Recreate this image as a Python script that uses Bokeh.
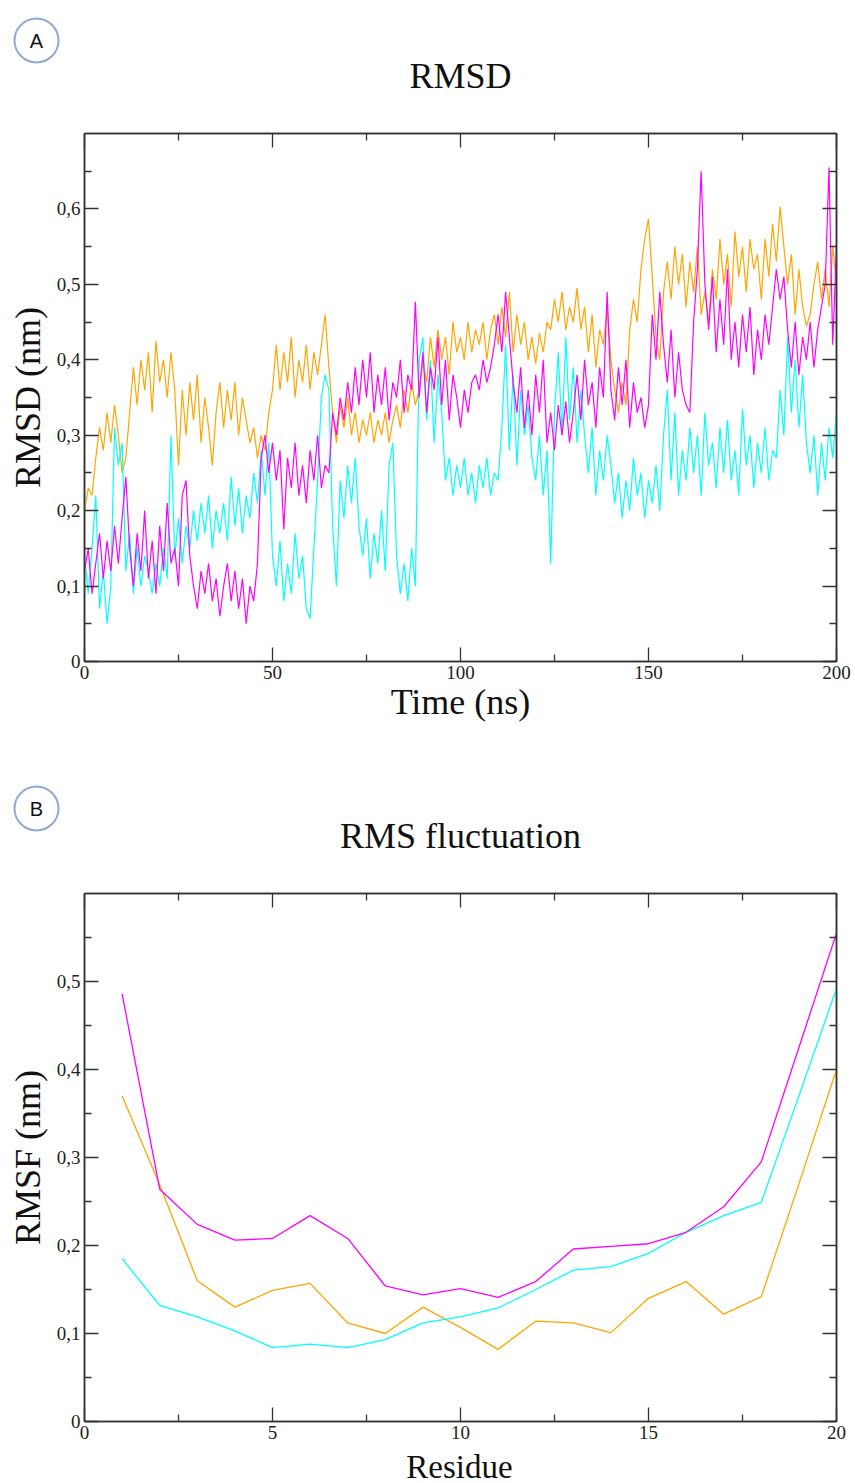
from bokeh.plotting import figure
from bokeh.layouts import column
from bokeh.models import (Range1d, FixedTicker, LinearAxis, Label,
                          CustomJSTickFormatter, ColumnDataSource)
from bokeh.embed import file_html
from bokeh.resources import INLINE

# ---------------- data ----------------
time_ns = list(range(0, 201))

rmsd_orange = [
    0.20, 0.23, 0.22, 0.27, 0.31, 0.28, 0.33, 0.29, 0.34, 0.30,
    0.25, 0.27, 0.33, 0.39, 0.34, 0.40, 0.36, 0.41, 0.33, 0.425,
    0.37, 0.40, 0.35, 0.41, 0.36, 0.26, 0.36, 0.30, 0.37, 0.32,
    0.38, 0.29, 0.35, 0.31, 0.26, 0.33, 0.37, 0.31, 0.36, 0.32,
    0.37, 0.30, 0.35, 0.32, 0.29, 0.31, 0.27, 0.30, 0.28, 0.33,
    0.36, 0.42, 0.36, 0.41, 0.37, 0.43, 0.35, 0.40, 0.37, 0.42,
    0.36, 0.41, 0.38, 0.42, 0.46, 0.39, 0.33, 0.29, 0.34, 0.31,
    0.35, 0.30, 0.33, 0.29, 0.32, 0.30, 0.33, 0.29, 0.32, 0.30,
    0.33, 0.29, 0.32, 0.34, 0.31, 0.36, 0.33, 0.37, 0.34, 0.36,
    0.40, 0.37, 0.43, 0.39, 0.44, 0.40, 0.43, 0.38, 0.45, 0.41,
    0.43, 0.40, 0.45, 0.41, 0.44, 0.42, 0.45, 0.40, 0.44, 0.46,
    0.42, 0.47, 0.43, 0.49, 0.41, 0.46, 0.42, 0.45, 0.40, 0.43,
    0.395, 0.435, 0.41, 0.45, 0.44, 0.48, 0.45, 0.49, 0.44, 0.47,
    0.45, 0.495, 0.44, 0.47, 0.41, 0.46, 0.39, 0.44, 0.42, 0.47,
    0.40, 0.36, 0.33, 0.37, 0.34, 0.44, 0.48, 0.45, 0.52, 0.56,
    0.587, 0.51, 0.43, 0.40, 0.49, 0.53, 0.48, 0.55, 0.50, 0.54,
    0.47, 0.53, 0.49, 0.55, 0.46, 0.49, 0.45, 0.52, 0.48, 0.56,
    0.50, 0.54, 0.47, 0.57, 0.51, 0.55, 0.49, 0.56, 0.52, 0.54,
    0.48, 0.56, 0.51, 0.58, 0.53, 0.603, 0.55, 0.50, 0.54, 0.46,
    0.52, 0.47, 0.445, 0.46, 0.50, 0.53, 0.48, 0.52, 0.47, 0.55,
    0.50,
]

rmsd_magenta = [
    0.12, 0.15, 0.09, 0.13, 0.17, 0.11, 0.16, 0.12, 0.18, 0.13,
    0.19, 0.245, 0.15, 0.10, 0.17, 0.12, 0.20, 0.11, 0.16, 0.09,
    0.18, 0.12, 0.21, 0.13, 0.15, 0.10, 0.22, 0.24, 0.14, 0.10,
    0.07, 0.12, 0.09, 0.13, 0.08, 0.11, 0.06, 0.10, 0.13, 0.08,
    0.12, 0.07, 0.11, 0.05, 0.10, 0.08, 0.13, 0.27, 0.30, 0.25,
    0.29, 0.24, 0.28, 0.175, 0.27, 0.23, 0.29, 0.22, 0.26, 0.21,
    0.28, 0.24, 0.30, 0.23, 0.26, 0.25, 0.33, 0.30, 0.35, 0.32,
    0.37, 0.33, 0.39, 0.34, 0.40, 0.35, 0.41, 0.33, 0.38, 0.34,
    0.39, 0.32, 0.37, 0.35, 0.40, 0.33, 0.38, 0.36, 0.477, 0.35,
    0.41, 0.33, 0.39, 0.36, 0.43, 0.34, 0.40, 0.32, 0.38, 0.35,
    0.31, 0.36, 0.33, 0.37, 0.38, 0.36, 0.40, 0.37, 0.39, 0.42,
    0.46, 0.41, 0.49, 0.43, 0.37, 0.33, 0.39, 0.31, 0.36, 0.30,
    0.38, 0.33, 0.40, 0.29, 0.33, 0.28, 0.34, 0.30, 0.345, 0.29,
    0.33, 0.38, 0.32, 0.40, 0.34, 0.37, 0.31, 0.39, 0.35, 0.49,
    0.36, 0.32, 0.39, 0.34, 0.40, 0.31, 0.37, 0.33, 0.35, 0.31,
    0.34, 0.46, 0.40, 0.49, 0.42, 0.37, 0.44, 0.35, 0.41, 0.36,
    0.34, 0.33, 0.45, 0.52, 0.65, 0.50, 0.44, 0.51, 0.41, 0.48,
    0.42, 0.52, 0.40, 0.45, 0.39, 0.46, 0.41, 0.47, 0.38, 0.44,
    0.40, 0.46, 0.42, 0.47, 0.52, 0.48, 0.51, 0.44, 0.39, 0.45,
    0.38, 0.43, 0.40, 0.45, 0.39, 0.44, 0.47, 0.50, 0.655, 0.42,
    0.55,
]

rmsd_cyan = [
    0.14, 0.09, 0.15, 0.22, 0.07, 0.12, 0.05, 0.10, 0.31, 0.26,
    0.29, 0.12, 0.17, 0.09, 0.15, 0.10, 0.14, 0.12, 0.09, 0.13,
    0.10, 0.15, 0.11, 0.30, 0.14, 0.19, 0.13, 0.18, 0.15, 0.20,
    0.16, 0.21, 0.17, 0.22, 0.15, 0.20, 0.17, 0.21, 0.16, 0.245,
    0.18, 0.23, 0.17, 0.22, 0.19, 0.25, 0.21, 0.28, 0.22, 0.29,
    0.14, 0.10, 0.16, 0.08, 0.13, 0.09, 0.17, 0.11, 0.14, 0.07,
    0.057, 0.15, 0.24, 0.35, 0.38, 0.36, 0.18, 0.10, 0.24, 0.19,
    0.26, 0.21, 0.27, 0.18, 0.14, 0.19, 0.11, 0.17, 0.13, 0.20,
    0.12, 0.26, 0.29, 0.14, 0.09, 0.13, 0.08, 0.15, 0.10, 0.40,
    0.43, 0.32, 0.40, 0.29, 0.38, 0.33, 0.24, 0.27, 0.22, 0.26,
    0.23, 0.27, 0.22, 0.25, 0.21, 0.26, 0.23, 0.27, 0.22, 0.25,
    0.24, 0.31, 0.42, 0.28, 0.38, 0.26, 0.36, 0.30, 0.34, 0.27,
    0.24, 0.30, 0.22, 0.28, 0.13, 0.33, 0.41, 0.30, 0.43, 0.32,
    0.39, 0.29, 0.36, 0.30, 0.25, 0.31, 0.22, 0.28, 0.24, 0.30,
    0.26, 0.21, 0.25, 0.19, 0.24, 0.20, 0.27, 0.22, 0.25, 0.19,
    0.24, 0.21, 0.26, 0.20, 0.30, 0.36, 0.24, 0.33, 0.22, 0.28,
    0.24, 0.31, 0.25, 0.30, 0.22, 0.33, 0.26, 0.29, 0.23, 0.31,
    0.25, 0.32, 0.24, 0.28, 0.22, 0.335, 0.26, 0.30, 0.23, 0.29,
    0.25, 0.31, 0.24, 0.28, 0.27, 0.36, 0.30, 0.43, 0.33, 0.40,
    0.31, 0.38, 0.29, 0.25, 0.30, 0.22, 0.29, 0.24, 0.31, 0.27,
    0.33,
]

residue = list(range(1, 21))
rmsf_magenta = [0.486, 0.264, 0.224, 0.206, 0.208, 0.234, 0.208, 0.154, 0.144, 0.151,
                0.141, 0.159, 0.196, 0.199, 0.202, 0.215, 0.244, 0.295, 0.425, 0.555]
rmsf_orange = [0.370, 0.269, 0.160, 0.130, 0.149, 0.157, 0.112, 0.100, 0.130, 0.107,
               0.082, 0.114, 0.112, 0.101, 0.140, 0.159, 0.122, 0.142, 0.27, 0.400]
rmsf_cyan = [0.185, 0.132, 0.119, 0.103, 0.084, 0.088, 0.084, 0.093, 0.112, 0.119,
             0.129, 0.150, 0.172, 0.176, 0.191, 0.215, 0.234, 0.249, 0.37, 0.492]

rmsd_xticks = [0, 50, 100, 150, 200]
rmsd_xminor = [25, 75, 125, 175]
rmsd_yticks = [0, 0.1, 0.2, 0.3, 0.4, 0.5, 0.6]
rmsd_yminor = [0.05, 0.15, 0.25, 0.35, 0.45, 0.55, 0.65]
rmsf_xticks = [0, 5, 10, 15, 20]
rmsf_xminor = [2.5, 7.5, 12.5, 17.5]
rmsf_yticks = [0, 0.1, 0.2, 0.3, 0.4, 0.5]
rmsf_yminor = [0.05, 0.15, 0.25, 0.35, 0.45, 0.55]

ORANGE = "#FFA500"
MAGENTA = "#FF00FF"
CYAN = "#00FFFF"
SERIF = "Liberation Serif"
FRAME = "#333333"
BADGE = "#8FA8D8"
W = 855

comma_fmt = CustomJSTickFormatter(code="""
    return Math.abs(tick) < 1e-9 ? "0" : tick.toFixed(1).replace(".", ",");
""")
blank_fmt = CustomJSTickFormatter(code='return "";')


def style_axes(p, xt, xm, yt, ym):
    bottom = p.below[0]
    left = p.left[0]
    bottom.ticker = FixedTicker(ticks=xt, minor_ticks=xm)
    left.ticker = FixedTicker(ticks=yt, minor_ticks=ym)
    left.formatter = comma_fmt
    top = LinearAxis(ticker=FixedTicker(ticks=xt, minor_ticks=xm), formatter=blank_fmt)
    right = LinearAxis(ticker=FixedTicker(ticks=yt, minor_ticks=ym), formatter=blank_fmt)
    p.add_layout(top, "above")
    p.add_layout(right, "right")
    for ax in (bottom, left, top, right):
        ax.axis_line_color = FRAME
        ax.axis_line_width = 1.5
        ax.major_tick_line_color = FRAME
        ax.minor_tick_line_color = FRAME
        ax.major_tick_line_width = 1.3
        ax.minor_tick_line_width = 1.3
        ax.major_tick_in = 14
        ax.major_tick_out = 0
        ax.minor_tick_in = 7
        ax.minor_tick_out = 0
        ax.major_label_text_font = SERIF
        ax.major_label_text_font_size = "19px"
        ax.major_label_text_color = "#222222"
        ax.major_label_standoff = 4
        ax.axis_label_text_font = SERIF
        ax.axis_label_text_font_size = "36px"
        ax.axis_label_text_font_style = "normal"
        ax.axis_label_text_color = "#111111"
    for ax in (top, right):
        ax.major_label_text_font_size = "1px"
        ax.major_label_standoff = 0
        ax.major_label_text_color = None
    p.outline_line_color = FRAME
    p.outline_line_width = 1.5
    p.xgrid.visible = False
    p.ygrid.visible = False
    p.background_fill_color = "white"
    p.border_fill_color = "white"
    return bottom, left


def blank_strip(height):
    s = figure(width=W, height=height, x_range=Range1d(0, W), y_range=Range1d(0, height),
               output_backend="svg", toolbar_location=None,
               x_axis_type=None, y_axis_type=None, min_border=0, frame_align=False)
    s.min_border_left = s.min_border_right = s.min_border_top = s.min_border_bottom = 0
    s.outline_line_color = None
    s.xgrid.visible = False
    s.ygrid.visible = False
    s.background_fill_color = "white"
    s.border_fill_color = "white"
    return s


def add_text(p, x, y, text, size, font=SERIF):
    p.add_layout(Label(x=x, y=y, text=text, text_font=font, text_font_size=size,
                       text_align="center", text_baseline="middle",
                       text_color="#111111"))


def add_badge(p, x, y, text):
    p.circle(x=[x], y=[y], radius=22, fill_color="white",
             line_color=BADGE, line_width=2)
    add_text(p, x, y, text, "20px", font="Liberation Sans")


# ---------------- header A ----------------
hA = blank_strip(129)
add_badge(hA, 36, 89, "A")
add_text(hA, 460, 54, "RMSD", "36px")

# ---------------- panel A: RMSD ----------------
pA = figure(width=W, height=639, x_range=Range1d(0, 200), y_range=Range1d(0, 0.7),
            output_backend="svg", toolbar_location=None, frame_align=False,
            min_border_left=84, min_border_right=19, min_border_top=4,
            min_border_bottom=107)
bA, lA = style_axes(pA, rmsd_xticks, rmsd_xminor, rmsd_yticks, rmsd_yminor)
bA.axis_label = "Time (ns)"
bA.axis_label_standoff = 0
lA.axis_label = "RMSD (nm)"
lA.axis_label_standoff = 6

srcA = ColumnDataSource(dict(t=time_ns, o=rmsd_orange, m=rmsd_magenta, c=rmsd_cyan))
pA.line("t", "o", source=srcA, line_color=ORANGE, line_width=1.2)
pA.line("t", "c", source=srcA, line_color=CYAN, line_width=1.2)
pA.line("t", "m", source=srcA, line_color=MAGENTA, line_width=1.2)

# ---------------- header B ----------------
hB = blank_strip(121)
add_badge(hB, 36, 81, "B")
add_text(hB, 460, 54, "RMS fluctuation", "36px")

# ---------------- panel B: RMSF ----------------
pB = figure(width=W, height=559, x_range=Range1d(0, 20), y_range=Range1d(0, 0.6),
            output_backend="svg", toolbar_location=None, frame_align=False,
            min_border_left=84, min_border_right=19, min_border_top=4,
            min_border_bottom=27)
bB, lB = style_axes(pB, rmsf_xticks, rmsf_xminor, rmsf_yticks, rmsf_yminor)
lB.axis_label = "RMSF (nm)"
lB.axis_label_standoff = 6

srcB = ColumnDataSource(dict(r=residue, o=rmsf_orange, m=rmsf_magenta, c=rmsf_cyan))
pB.line("r", "o", source=srcB, line_color=ORANGE, line_width=1.3)
pB.line("r", "c", source=srcB, line_color=CYAN, line_width=1.3)
pB.line("r", "m", source=srcB, line_color=MAGENTA, line_width=1.3)

# ---------------- footer B (x-axis title) ----------------
fB = blank_strip(35)
add_text(fB, 459, 17, "Residue", "33px")

layout = column(hA, pA, hB, pB, fB, spacing=0)
open("out.html", "w").write(file_html(layout, INLINE))
